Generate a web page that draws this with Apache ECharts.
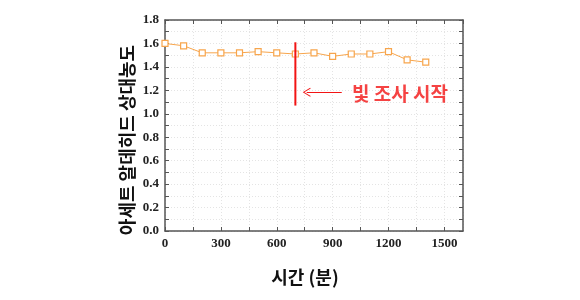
<!DOCTYPE html>
<html><head><meta charset="utf-8">
<script src="https://cdn.jsdelivr.net/npm/echarts@6/dist/echarts.min.js"></script>
<style>html,body{margin:0;padding:0;background:#fff}#c{width:580px;height:300px}</style>
</head><body><div id="c"></div>
<script>
const timeMin = [0,100,200,300,400,500,600,700,800,900,1000,1100,1200,1300,1400];
const relConc = [1.60,1.58,1.52,1.52,1.52,1.53,1.52,1.51,1.52,1.49,1.51,1.51,1.53,1.46,1.44];
const lightStartX = 700;
const lightLineY = [1.07, 1.61];
const arrowX = [949, 761];
const arrowY = 1.183;
const annotationPos = [1004, 1.17];
const annotationText = '빛 조사 시작';
const xTitle = '시간 (분)';
const yTitle = '아세트 알데히드 상대농도';

const chart = echarts.init(document.getElementById('c'));
const axisLine = {show:true, onZero:false, lineStyle:{color:'#555', width:1.5}};
const labelFont = {fontFamily:'Liberation Serif', fontWeight:'bold', fontSize:13, color:'#222'};
const gridLine = {show:true, lineStyle:{color:'#e4e4e4', type:[1,2], width:1}};
const red = '#f21414';
chart.setOption({
  animation:false,
  grid:{left:165, right:117, top:20, bottom:69},
  xAxis:[{
    type:'value', min:0, max:1600, interval:150,
    axisLine:axisLine,
    axisTick:{inside:true, length:4, lineStyle:{color:'#555'}},
    axisLabel:Object.assign({margin:6, showMaxLabel:false,
      formatter:v=> (v%300===0 ? String(v) : '')}, labelFont),
    splitLine:gridLine
  },{
    type:'value', min:0, max:1600, interval:150, position:'top',
    axisLine:axisLine,
    axisTick:{inside:true, length:4, lineStyle:{color:'#555'}},
    axisLabel:{show:false}, splitLine:{show:false}
  }],
  yAxis:[{
    type:'value', min:0, max:1.8, interval:0.1,
    axisLine:axisLine,
    axisTick:{inside:true, length:4, lineStyle:{color:'#555'}},
    axisLabel:Object.assign({margin:6,
      formatter:v=> (Math.round(v*10)%2===0 ? v.toFixed(1) : '')}, labelFont),
    splitLine:gridLine
  },{
    type:'value', min:0, max:1.8, interval:0.1, position:'right',
    axisLine:axisLine,
    axisTick:{inside:true, length:4, lineStyle:{color:'#555'}},
    axisLabel:{show:false}, splitLine:{show:false}
  }],
  graphic:[
    {type:'text', x:305, y:277, style:{text:xTitle, fontFamily:'Noto Sans CJK KR', fontWeight:'bold', fontSize:18, fill:'#111', align:'center', verticalAlign:'middle'}},
    {type:'text', x:127, y:140, rotation:Math.PI/2, style:{text:yTitle, fontFamily:'Noto Sans CJK KR', fontWeight:'bold', fontSize:18, fill:'#111', align:'center', verticalAlign:'middle'}}
  ],
  series:[
    {
      type:'line', data:timeMin.map((t,i)=>[t,relConc[i]]),
      symbol:'rect', symbolSize:6, showAllSymbol:true,
      lineStyle:{color:'#f7a54c', width:1},
      itemStyle:{color:'#fff', borderColor:'#f7a54c', borderWidth:1.2},
      z:3
    },
    {
      type:'line', data:lightLineY.map(y=>[lightStartX,y]),
      symbol:'none', lineStyle:{color:red, width:2}, z:4
    },
    {
      type:'line', data:arrowX.map(x=>[x,arrowY]),
      symbol:'none', lineStyle:{color:red, width:1, opacity:0}, z:4,
      markLine:{silent:true, symbol:['none','path://M0,0 L6,10 L5,10.8 L0,2.2 L-5,10.8 L-6,10 Z'], symbolSize:[9,8],
        lineStyle:{color:red, width:1, type:'solid'}, label:{show:false},
        data:[[{coord:[arrowX[0],arrowY]},{coord:[arrowX[1],arrowY]}]]}
    },
    {
      type:'scatter', data:[annotationPos], symbolSize:0,
      label:{show:true, position:'right', distance:0, formatter:annotationText,
        fontFamily:'Noto Sans CJK KR', fontWeight:'bold', fontSize:19, color:red}
    }
  ]
});
</script></body></html>
